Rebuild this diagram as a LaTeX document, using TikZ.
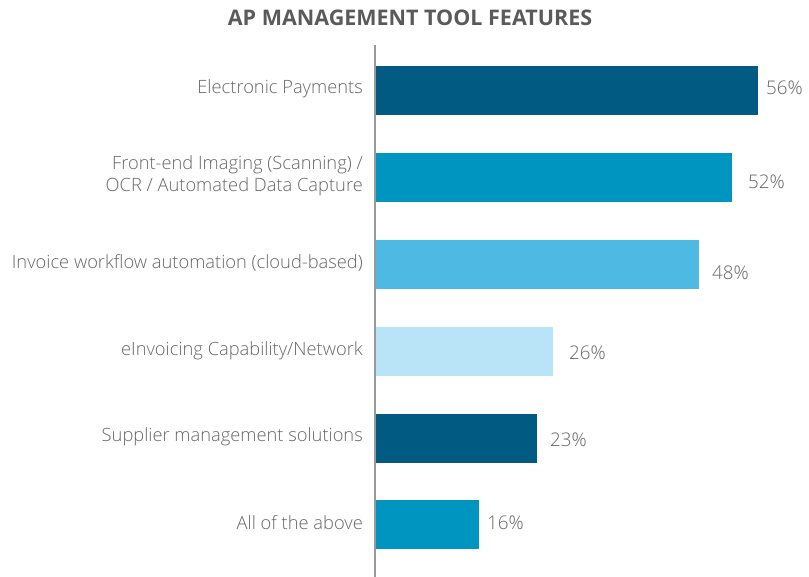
\documentclass[tikz,border=0pt]{standalone}
\usepackage{fontspec}
\setmainfont{Open Sans}
\newfontfamily\lightfont{Open Sans Light}
\usetikzlibrary{positioning}
\definecolor{cdark}{HTML}{005A82}
\definecolor{cmid}{HTML}{0094C1}
\definecolor{clight}{HTML}{4EBAE3}
\definecolor{cpale}{HTML}{B9E4F8}
\definecolor{ctext}{HTML}{666666}
\definecolor{ctitle}{HTML}{5A5A5A}
\definecolor{caxis}{HTML}{999999}
\tikzset{
  bar/.style={anchor=west, minimum height=49pt, inner sep=0pt, outer sep=0pt, draw=none},
  cat/.style={anchor=east, align=right, text=ctext, font=\lightfont\fontsize{18.3}{22}\selectfont, inner sep=0pt},
  val/.style={anchor=west, text=ctext, font=\lightfont\fontsize{18.8}{22}\selectfont, inner sep=0pt},
  axisline/.style={draw=caxis, line width=1.5pt},
}
\begin{document}
\begin{tikzpicture}[x=1pt,y=-1pt]
\useasboundingbox (0,0) rectangle (809,577);
\node[text=ctitle, font=\bfseries\fontsize{21.5}{24}\selectfont, inner sep=0pt] (title) at (410,18) {AP MANAGEMENT TOOL FEATURES};
% bars
\node[bar, fill=cdark,  minimum width=383pt] (b1) at (375,90.5) {};
\node[bar, fill=cmid,   minimum width=357pt] (b2) at (375,177.5) {};
\node[bar, fill=clight, minimum width=324pt] (b3) at (375,264.5) {};
\node[bar, fill=cpale,  minimum width=178pt] (b4) at (375,351.5) {};
\node[bar, fill=cdark,  minimum width=162pt] (b5) at (375,438.5) {};
\node[bar, fill=cmid,   minimum width=104pt] (b6) at (375,524.5) {};
% axis
\coordinate (atop) at (375,45);
\coordinate (abot) at (375,577);
\draw[axisline] (atop) -- (abot);
% category labels
\node[cat] (l1) at (363,89) {Electronic Payments};
\node[cat] (l2) at (363,176) {Front-end Imaging (Scanning) /\\OCR / Automated Data Capture};
\node[cat] (l3) at (363,263) {Invoice workflow automation (cloud-based)};
\node[cat] (l4) at (363,351) {eInvoicing Capability/Network};
\node[cat] (l5) at (363,437) {Supplier management solutions};
\node[cat] (l6) at (363,523) {All of the above};
% values
\node[val] (v1) at (766,88) {56\%};
\node[val] (v2) at (748,182) {52\%};
\node[val] (v3) at (712,273) {48\%};
\node[val] (v4) at (569,353) {26\%};
\node[val] (v5) at (550,440) {23\%};
\node[val] (v6) at (487,523) {16\%};
\end{tikzpicture}
\end{document}
